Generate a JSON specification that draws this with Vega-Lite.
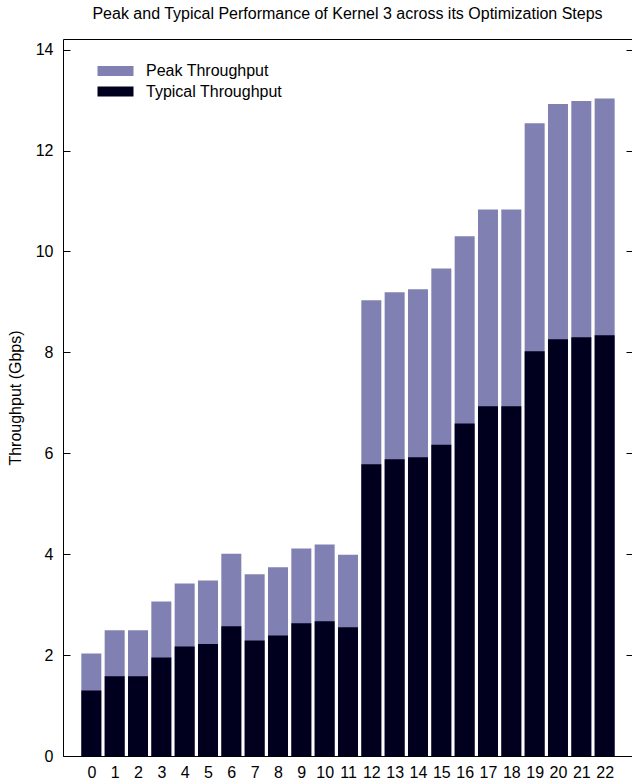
{
  "$schema": "https://vega.github.io/schema/vega-lite/v6.json",
  "autosize": "none",
  "width": 569,
  "height": 717,
  "padding": {"left": 63, "top": 39, "right": 0, "bottom": 25},
  "background": "white",
  "config": {
    "font": "Liberation Sans",
    "view": {"stroke": null},
    "axis": {"labelFont": "Liberation Sans", "labelFontSize": 16, "labelColor": "#000", "titleFont": "Liberation Sans", "titleFontSize": 16, "titleFontWeight": "normal", "titleColor": "#000", "domainColor": "#000", "domainWidth": 1, "tickColor": "#000", "grid": false}
  },
  "title": {"text": "Peak and Typical Performance of Kernel 3 across its Optimization Steps", "fontSize": 16, "fontWeight": "normal", "font": "Liberation Sans", "color": "#000", "anchor": "middle", "offset": 17},
  "data": {"values": [
    {"step": 0, "Peak Throughput": 2.03, "Typical Throughput": 1.30},
    {"step": 1, "Peak Throughput": 2.49, "Typical Throughput": 1.58},
    {"step": 2, "Peak Throughput": 2.49, "Typical Throughput": 1.58},
    {"step": 3, "Peak Throughput": 3.06, "Typical Throughput": 1.95},
    {"step": 4, "Peak Throughput": 3.42, "Typical Throughput": 2.17},
    {"step": 5, "Peak Throughput": 3.48, "Typical Throughput": 2.22},
    {"step": 6, "Peak Throughput": 4.01, "Typical Throughput": 2.57},
    {"step": 7, "Peak Throughput": 3.60, "Typical Throughput": 2.29},
    {"step": 8, "Peak Throughput": 3.74, "Typical Throughput": 2.39},
    {"step": 9, "Peak Throughput": 4.11, "Typical Throughput": 2.63},
    {"step": 10, "Peak Throughput": 4.19, "Typical Throughput": 2.67},
    {"step": 11, "Peak Throughput": 3.99, "Typical Throughput": 2.55},
    {"step": 12, "Peak Throughput": 9.03, "Typical Throughput": 5.78},
    {"step": 13, "Peak Throughput": 9.19, "Typical Throughput": 5.88},
    {"step": 14, "Peak Throughput": 9.25, "Typical Throughput": 5.92},
    {"step": 15, "Peak Throughput": 9.66, "Typical Throughput": 6.17},
    {"step": 16, "Peak Throughput": 10.30, "Typical Throughput": 6.59},
    {"step": 17, "Peak Throughput": 10.83, "Typical Throughput": 6.93},
    {"step": 18, "Peak Throughput": 10.83, "Typical Throughput": 6.93},
    {"step": 19, "Peak Throughput": 12.54, "Typical Throughput": 8.02},
    {"step": 20, "Peak Throughput": 12.92, "Typical Throughput": 8.26},
    {"step": 21, "Peak Throughput": 12.98, "Typical Throughput": 8.30},
    {"step": 22, "Peak Throughput": 13.03, "Typical Throughput": 8.34}
  ]},
  "transform": [{"fold": ["Peak Throughput", "Typical Throughput"], "as": ["series", "value"]}],
  "encoding": {
    "x": {"field": "step", "type": "quantitative", "scale": {"domain": [-1, 22.958], "nice": false, "zero": false}},
    "y": {"field": "value", "type": "quantitative", "stack": null, "scale": {"domain": [0, 14.21], "nice": false}}
  },
  "layer": [
    {
      "mark": {"type": "bar", "size": 20, "opacity": 1},
      "encoding": {
        "x": {"field": "step", "type": "quantitative", "axis": {"orient": "bottom", "title": null, "values": [0,1,2,3,4,5,6,7,8,9,10,11,12,13,14,15,16,17,18,19,20,21,22], "ticks": false, "labelPadding": 8, "labelFlush": false, "labelOverlap": false}},
        "y": {"field": "value", "type": "quantitative", "axis": {"orient": "left", "title": "Throughput (Gbps)", "values": [0,2,4,6,8,10,12,14], "tickSize": -7, "labelPadding": 17, "titlePadding": 12, "labelFlush": false}},
        "color": {"field": "series", "type": "nominal", "scale": {"domain": ["Peak Throughput", "Typical Throughput"], "range": ["#8080b2", "#00001e"]},
          "legend": {"title": null, "orient": "none", "legendX": 44.5, "legendY": 24, "symbolType": "M-3.6,-1H3.6V1H-3.6Z", "symbolSize": 100, "symbolStrokeWidth": 0, "symbolOpacity": 1, "labelFontSize": 16, "labelFont": "Liberation Sans", "labelColor": "#000", "labelOffset": 22.5, "rowPadding": 4.5, "padding": 0}}
      }
    },
    {
      "mark": {"type": "bar", "size": 20, "opacity": 0},
      "encoding": {
        "x": {"field": "step", "type": "quantitative", "axis": {"orient": "top", "title": null, "labels": false, "ticks": false, "domain": true}},
        "y": {"field": "value", "type": "quantitative", "axis": {"orient": "right", "title": null, "labels": false, "values": [0,2,4,6,8,10,12,14], "tickSize": -6, "domain": false}}
      }
    }
  ],
  "resolve": {"axis": {"x": "independent", "y": "independent"}}
}
